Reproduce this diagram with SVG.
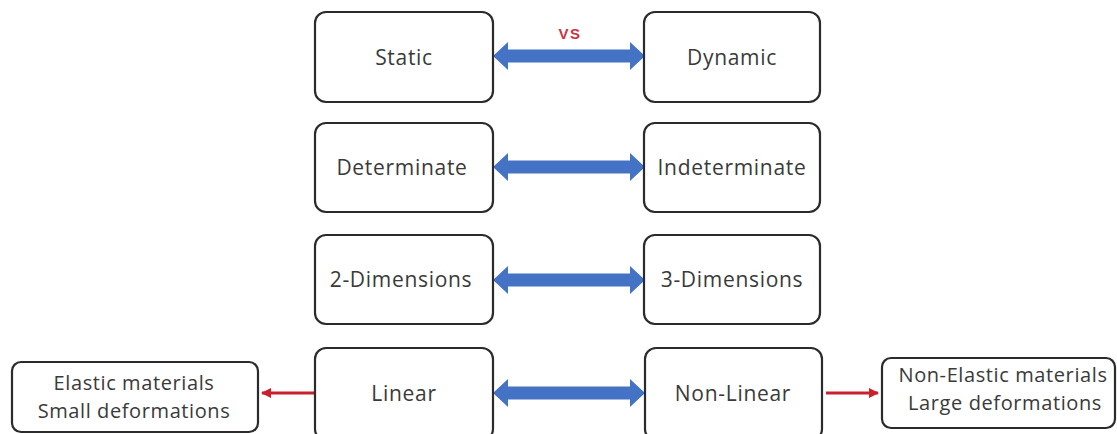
<svg xmlns="http://www.w3.org/2000/svg" xmlns:xlink="http://www.w3.org/1999/xlink" width="1117" height="434" viewBox="0 0 1117 434">
<style>
.box{fill:#fff;stroke:#2b2b2b;stroke-width:2.2}
.t{font-family:"Open Sans","Liberation Sans",sans-serif;font-size:21px;fill:#3a3a3a;text-anchor:middle;letter-spacing:0.7px}
.s{font-family:"Open Sans","Liberation Sans",sans-serif;font-size:20px;fill:#3a3a3a;text-anchor:middle;letter-spacing:0.6px}
.vs{font-family:"Liberation Sans",sans-serif;font-size:15px;font-weight:bold;fill:#d0303f;text-anchor:middle;letter-spacing:1.5px}
.blue{fill:#4472c4}
.red{stroke:#c8202c;stroke-width:3;fill:none}
</style>
<defs>
<polygon id="dbl" points="0,0 15,-14 15,-6.5 137,-6.5 137,-14 152,0 137,14 137,6.5 15,6.5 15,14"/>
<marker id="rh" viewBox="0 0 10 10" refX="9" refY="5" markerWidth="3.4" markerHeight="3.4" orient="auto" markerUnits="strokeWidth">
<path d="M0,0 L10,5 L0,10 z" fill="#c8202c"/>
</marker>
</defs>
<rect width="1117" height="434" fill="#fff"/>
<g id="connectors">
<use xlink:href="#dbl" class="blue" x="493" y="56"/>
<use xlink:href="#dbl" class="blue" x="493" y="167"/>
<use xlink:href="#dbl" class="blue" x="493" y="280"/>
<use xlink:href="#dbl" class="blue" x="493" y="393"/>
<line class="red" x1="314" y1="393" x2="262" y2="393" marker-end="url(#rh)"/>
<line class="red" x1="826" y1="393" x2="878" y2="393" marker-end="url(#rh)"/>
</g>
<text id="vs-label" class="vs" x="570" y="39">VS</text>
<g id="static"><rect class="box" x="315" y="12" width="178" height="90" rx="11"/><text class="t" x="404" y="65">Static</text></g>
<g id="dynamic"><rect class="box" x="644" y="12" width="176" height="90" rx="11"/><text class="t" x="732" y="65">Dynamic</text></g>
<g id="determinate"><rect class="box" x="315" y="123" width="178" height="89" rx="11"/><text class="t" x="402" y="175">Determinate</text></g>
<g id="indeterminate"><rect class="box" x="644" y="123" width="176" height="89" rx="11"/><text class="t" x="732" y="175">Indeterminate</text></g>
<g id="dim2"><rect class="box" x="315" y="235" width="178" height="89" rx="11"/><text class="t" x="401" y="287">2-Dimensions</text></g>
<g id="dim3"><rect class="box" x="644" y="235" width="176" height="89" rx="11"/><text class="t" x="732" y="287">3-Dimensions</text></g>
<g id="linear"><rect class="box" x="315" y="348" width="178" height="92" rx="11"/><text class="t" x="404" y="401">Linear</text></g>
<g id="nonlinear"><rect class="box" x="645" y="348" width="177" height="92" rx="11"/><text class="t" x="733" y="401">Non-Linear</text></g>
<g id="elastic"><rect class="box" x="12" y="362" width="246" height="70" rx="9"/><text class="s" x="134" y="390">Elastic materials</text><text class="s" x="134" y="418">Small deformations</text></g>
<g id="nonelastic"><rect class="box" x="882" y="358" width="233" height="70" rx="9"/><text class="s" x="1003" y="382">Non-Elastic materials</text><text class="s" x="1005" y="410">Large deformations</text></g>
</svg>
